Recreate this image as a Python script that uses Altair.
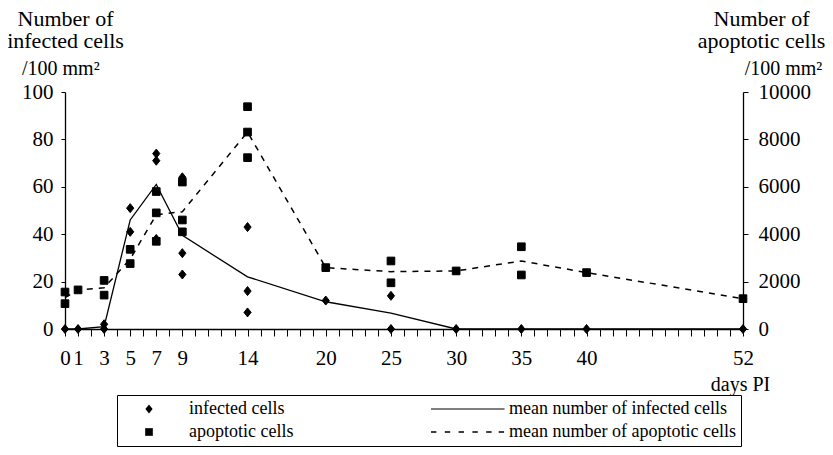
import altair as alt
import pandas as pd

# ---------------- data ----------------
inf_days = [0, 1, 3, 3, 5, 5, 7, 7, 7, 9, 9, 9, 14, 14, 14, 20, 25, 25, 30, 35, 40, 52]
inf_vals = [0, 0, 0, 2, 51, 41, 74, 71, 38, 64, 32, 23, 43, 16, 7, 12, 14, 0, 0, 0, 0, 0]

apo_days = [0, 0, 1, 3, 3, 5, 5, 7, 7, 7, 9, 9, 9, 14, 14, 14, 20, 25, 25, 30, 35, 35, 40, 52]
apo_vals = [1560, 1070, 1650, 2050, 1430, 3360, 2760, 5800, 4900, 3700, 6200, 4600, 4100,
            9380, 8310, 7230, 2590, 2870, 1950, 2450, 3470, 2280, 2380, 1280]

mean_days = [0, 1, 3, 5, 7, 9, 14, 20, 25, 30, 35, 40, 52]
mean_inf = [0, 0, 1, 46, 61, 39.5, 22, 11.5, 6.7, 0, 0, 0, 0]
mean_apo = [1320, 1650, 1740, 2950, 4820, 4950, 8310, 2590, 2420, 2450, 2870, 2380, 1280]

x_label_days = [0, 1, 3, 5, 7, 9, 14, 20, 25, 30, 35, 40, 52]
x_tick_days = list(range(0, 53))
left_ticks = [0, 20, 40, 60, 80, 100]
right_ticks = [0, 2000, 4000, 6000, 8000, 10000]

legend_names = ["infected cells", "mean number of infected cells",
                "apoptotic cells", "mean number of apoptotic cells"]

# ---------------- styling ----------------
FONT = "Liberation Serif"


def hbar(x0, x1, h=0.12):
    return f"M{x0},{-h}L{x1},{-h}L{x1},{h}L{x0},{h}Z"


diamond = "M0,-1L0.8,0L0,1L-0.8,0Z"
square = "M-0.85,-0.85L0.85,-0.85L0.85,0.85L-0.85,0.85Z"
solid = hbar(-8.44, 7.9)
dash_starts = [-8.444, -5.378, -2.311, 0.756, 3.822, 6.6]
dashed = "".join(hbar(round(s, 3), round(s + 1.2, 3), 0.14) for s in dash_starts)

shape_scale = alt.Scale(domain=legend_names, range=[diamond, solid, square, dashed])

legend = alt.Legend(
    title=None, orient="none", legendX=52, legendY=303, columns=2, direction="horizontal",
    labelFont=FONT, labelFontSize=18, labelColor="black", labelLimit=400,
    labelOffset=31, symbolOffset=18, symbolSize=81, symbolStrokeWidth=1,
    symbolFillColor="black", symbolStrokeColor="black",
    columnPadding=135, rowPadding=5, padding=5,
    strokeColor="black", fillColor="white", cornerRadius=0,
)

label_list = ",".join(str(d) for d in x_label_days)
x_scale = alt.Scale(domain=[0, 52], nice=False, zero=False)
x_axis = alt.Axis(
    orient="bottom", values=x_tick_days,
    labelExpr=f"indexof([{label_list}], datum.value) >= 0 ? datum.label : ''",
    labelOverlap=False, labelFlush=False, grid=False,
    domainColor="black", domainWidth=1.3, tickColor="black", tickWidth=1, tickSize=7,
    labelFont=FONT, labelFontSize=21, labelColor="black", labelPadding=11,
    title="days PI", titleFont=FONT, titleFontSize=20, titleFontWeight="normal",
    titleColor="black", titleX=675, titleY=61, titleAlign="center",
    titleBaseline="alphabetic", titleAngle=0,
)

left_scale = alt.Scale(domain=[0, 100], nice=False)
left_axis = alt.Axis(
    orient="left", values=left_ticks, grid=False,
    domainColor="black", domainWidth=1.3, tickColor="black", tickWidth=1, tickSize=4,
    labelFont=FONT, labelFontSize=21, labelColor="black", labelPadding=8,
    title=["Number of", "infected cells"], titleFont=FONT, titleFontSize=22,
    titleFontWeight="normal", titleColor="black", titleAngle=0, titleAlign="center",
    titleBaseline="alphabetic", titleX=0, titleY=-67, titleLineHeight=22,
)

right_scale = alt.Scale(domain=[0, 10000], nice=False)
right_axis = alt.Axis(
    orient="right", values=right_ticks, grid=False, format="d",
    domainColor="black", domainWidth=1.3, tickColor="black", tickWidth=1, tickSize=5,
    labelFont=FONT, labelFontSize=21, labelColor="black", labelPadding=10,
    title=["Number of", "apoptotic cells"], titleFont=FONT, titleFontSize=22,
    titleFontWeight="normal", titleColor="black", titleAngle=0, titleAlign="center",
    titleBaseline="alphabetic", titleX=18, titleY=-67, titleLineHeight=22,
)

inf_df = pd.DataFrame({"day": inf_days, "value": inf_vals, "series": "infected cells"})
apo_df = pd.DataFrame({"day": apo_days, "value": apo_vals, "series": "apoptotic cells"})
mean_inf_df = pd.DataFrame({"day": mean_days, "value": mean_inf})
mean_apo_df = pd.DataFrame({"day": mean_days, "value": mean_apo})

point_style = dict(filled=True, fill="black", stroke="black", strokeWidth=1, size=81, opacity=1)

inf_points = alt.Chart(inf_df).mark_point(**point_style).encode(
    x=alt.X("day:Q", scale=x_scale, axis=x_axis),
    y=alt.Y("value:Q", scale=left_scale, axis=left_axis),
    shape=alt.Shape("series:N", scale=shape_scale, legend=legend),
)
inf_line = alt.Chart(mean_inf_df).mark_line(color="black", strokeWidth=1.3).encode(
    x=alt.X("day:Q", scale=x_scale, axis=x_axis),
    y=alt.Y("value:Q", scale=left_scale, axis=left_axis),
)

apo_points = alt.Chart(apo_df).mark_point(**point_style).encode(
    x=alt.X("day:Q", scale=x_scale, axis=x_axis),
    y=alt.Y("value:Q", scale=right_scale, axis=right_axis),
    shape=alt.Shape("series:N", scale=shape_scale, legend=legend),
)
apo_line = alt.Chart(mean_apo_df).mark_line(color="black", strokeWidth=1.5, strokeDash=[6, 6]).encode(
    x=alt.X("day:Q", scale=x_scale, axis=x_axis),
    y=alt.Y("value:Q", scale=right_scale, axis=right_axis),
)

layer_inf = alt.layer(inf_line, inf_points)
layer_apo = alt.layer(apo_line, apo_points)

nbsp = "\u00a0" * 129
chart = alt.layer(layer_inf, layer_apo).resolve_scale(y="independent").properties(
    width=678, height=237,
    autosize=alt.AutoSizeParams(type="none"),
    padding={"left": 57, "top": 84, "right": 82, "bottom": 118},
    background="white",
    title=alt.TitleParams(
        text="/100 mm\u00b2" + nbsp + "/100 mm\u00b2",
        anchor="start", frame="group", font=FONT, fontSize=20, fontWeight="normal",
        color="black", dx=-43, dy=88, offset=0, baseline="alphabetic",
    ),
).configure_view(stroke=None)

chart.save("out.html", embed_options={"renderer": "svg", "actions": False})
